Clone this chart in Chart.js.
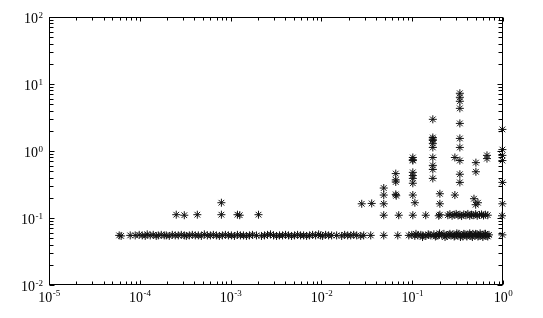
<!DOCTYPE html>
<html>
<head>
<meta charset="utf-8">
<script src="https://cdn.jsdelivr.net/npm/chart.js@4.4.1/dist/chart.umd.min.js"></script>
<style>
  html, body { margin: 0; padding: 0; background: #fff; }
  #c { display: block; }
</style>
</head>
<body>
<canvas id="c" width="543" height="318"></canvas>
<script>
// log-log scatter, asterisk markers, boxed axes with inward ticks.

// axis decades (tick labels are 10^exp)
const xExps = [-5, -4, -3, -2, -1, 0];
const yExps = [-2, -1, 0, 1, 2];
const minorMults = [2, 3, 4, 5, 6, 7, 8, 9];

// main band around 0.055
const baseX = [
  5.93e-5, 6.23e-5, 7.84e-5, 8.90e-5, 9.85e-5, 1.063e-4, 1.147e-4, 1.207e-4, 1.302e-4, 1.406e-4,
  1.517e-4, 1.597e-4, 1.723e-4, 1.859e-4, 1.956e-4, 2.112e-4, 2.279e-4, 2.459e-4, 2.654e-4, 2.864e-4,
  3.092e-4, 3.253e-4, 3.511e-4, 3.788e-4, 4.088e-4, 4.413e-4, 4.762e-4, 5.140e-4, 5.546e-4, 5.986e-4,
  6.460e-4, 6.972e-4, 7.526e-4, 8.122e-4, 8.765e-4, 9.459e-4, 1.021e-3, 1.102e-3, 1.189e-3, 1.283e-3,
  1.385e-3, 1.494e-3, 1.613e-3, 1.741e-3, 1.927e-3, 2.188e-3, 2.362e-3, 2.549e-3, 2.751e-3, 2.969e-3,
  3.204e-3, 3.458e-3, 3.732e-3, 4.027e-3, 4.346e-3, 4.691e-3, 5.062e-3, 5.464e-3, 5.896e-3, 6.365e-3,
  6.869e-3, 7.413e-3, 8.000e-3, 8.634e-3, 9.317e-3, 9.802e-3, 1.031e-2, 1.113e-2, 1.201e-2, 1.296e-2,
  1.472e-2, 1.672e-2, 1.804e-2, 1.947e-2, 2.102e-2, 2.268e-2, 2.448e-2, 2.710e-2, 2.924e-2, 3.494e-2,
  4.862e-2, 6.937e-2, 9.176e-2, 9.903e-2, 0.1069, 0.1154, 0.1245, 0.1310, 0.1414, 0.1526,
  0.1605, 0.1732, 0.1869, 0.1967, 0.2123, 0.2234, 0.2411, 0.2537, 0.2669, 0.2808,
  0.2954, 0.3108, 0.3270, 0.3441, 0.3620, 0.3809, 0.4007, 0.4217, 0.4436, 0.4667,
  0.4910, 0.5166, 0.5436, 0.5719, 0.6017, 0.6331, 0.6661, 0.7008, 0.985
];
const baseY = [
  0.055, 0.054, 0.055, 0.055, 0.056, 0.055, 0.054, 0.057, 0.055, 0.056,
  0.054, 0.055, 0.056, 0.055, 0.055, 0.054, 0.056, 0.055, 0.055, 0.056,
  0.055, 0.054, 0.055, 0.056, 0.055, 0.055, 0.054, 0.057, 0.055, 0.055,
  0.056, 0.055, 0.054, 0.055, 0.056, 0.055, 0.055, 0.054, 0.056, 0.055,
  0.055, 0.054, 0.055, 0.056, 0.055, 0.054, 0.055, 0.056, 0.057, 0.055,
  0.054, 0.055, 0.055, 0.056, 0.055, 0.054, 0.055, 0.056, 0.055, 0.055,
  0.054, 0.055, 0.056, 0.055, 0.057, 0.055, 0.054, 0.056, 0.055, 0.055,
  0.055, 0.054, 0.056, 0.055, 0.055, 0.056, 0.055, 0.054, 0.055, 0.055,
  0.055, 0.055, 0.055, 0.056, 0.054, 0.055, 0.056, 0.055, 0.054, 0.056,
  0.055, 0.057, 0.054, 0.056, 0.055, 0.058, 0.054, 0.056, 0.055, 0.057,
  0.054, 0.056, 0.058, 0.055, 0.053, 0.057, 0.055, 0.056, 0.054, 0.058,
  0.055, 0.057, 0.054, 0.056, 0.055, 0.058, 0.054, 0.056, 0.056
];

// thickening of the band between 0.1 and 0.7
const bandX = [0.11, 0.13, 0.15, 0.18, 0.20, 0.23, 0.26, 0.29, 0.31, 0.34,
               0.37, 0.40, 0.43, 0.46, 0.50, 0.53, 0.56, 0.60, 0.64, 0.68];
const bandY = [0.058, 0.052, 0.057, 0.053, 0.059, 0.052, 0.058, 0.053, 0.059, 0.052,
               0.058, 0.053, 0.059, 0.052, 0.058, 0.053, 0.059, 0.052, 0.058, 0.053];

// second level around 0.11
const midX = [
  2.52e-4, 3.09e-4, 4.30e-4, 7.92e-4, 1.19e-3, 1.26e-3, 2.03e-3,
  4.86e-2, 7.11e-2, 0.1016, 0.141, 0.2017, 0.196,
  0.247, 0.26, 0.275, 0.29, 0.305, 0.32, 0.335, 0.35, 0.37, 0.39,
  0.41, 0.43, 0.45, 0.47, 0.50, 0.52, 0.55, 0.58, 0.61, 0.64, 0.68, 0.975
];
const midY = [
  0.112, 0.110, 0.112, 0.112, 0.112, 0.110, 0.112,
  0.110, 0.110, 0.110, 0.110, 0.112, 0.108,
  0.110, 0.114, 0.108, 0.112, 0.115, 0.109, 0.112, 0.107, 0.113, 0.110,
  0.115, 0.108, 0.112, 0.110, 0.114, 0.108, 0.111, 0.113, 0.109, 0.112, 0.110, 0.108
];

// scattered upper points
const upX = [
  7.92e-4, 2.78e-2, 3.58e-2,
  4.86e-2, 4.86e-2, 4.86e-2,
  6.59e-2, 6.59e-2, 6.59e-2, 6.59e-2, 6.67e-2,
  0.1016, 0.1016, 0.1016, 0.1016, 0.1016, 0.1016, 0.1016, 0.1016, 0.107,
  0.1687, 0.1687, 0.1687, 0.1687, 0.1687, 0.1687, 0.1687, 0.1687, 0.1687, 0.1687,
  0.2017, 0.2017,
  0.295, 0.295,
  0.335, 0.335, 0.335, 0.335, 0.335, 0.335, 0.335, 0.335, 0.335, 0.335,
  0.479, 0.53, 0.50, 0.503, 0.503,
  0.666, 0.666,
  0.985, 0.985, 0.985, 0.985, 0.985, 0.985
];
const upY = [
  0.169, 0.163, 0.165,
  0.28, 0.22, 0.163,
  0.46, 0.37, 0.345, 0.225, 0.215,
  0.80, 0.74, 0.72, 0.48, 0.43, 0.39, 0.33, 0.22, 0.169,
  2.97, 1.59, 1.50, 1.44, 1.30, 1.13, 0.80, 0.61, 0.53, 0.39,
  0.23, 0.163,
  0.80, 0.22,
  7.27, 6.33, 5.52, 4.33, 2.58, 1.54, 1.13, 0.72, 0.45, 0.34,
  0.194, 0.169, 0.158, 0.67, 0.49,
  0.86, 0.77,
  2.1, 1.05, 0.86, 0.72, 0.34, 0.163
];

const toPts = (xs, ys) => xs.map((x, i) => ({ x, y: ys[i] }));

const ink = '#111';
const serif = '"Liberation Serif", "Times New Roman", serif';

const markerSet = (data) => ({
  data,
  pointStyle: 'star',
  pointRadius: 4,
  pointBorderWidth: 1,
  pointBorderColor: ink,
  pointBackgroundColor: ink,
  showLine: false,
  clip: false,
});

// box, inward ticks and 10^n labels drawn with the chart's own scales
const framePlugin = {
  id: 'frame',
  afterDatasetsDraw(chart) {
    const { ctx, chartArea: a, scales: { x, y } } = chart;
    const L = Math.round(a.left) + 0.5, R = Math.round(a.right) - 0.5;
    const T = Math.round(a.top) + 0.5, B = Math.round(a.bottom) - 0.5;
    ctx.save();
    ctx.strokeStyle = '#000';
    ctx.lineWidth = 1;
    ctx.strokeRect(L, T, R - L, B - T);

    ctx.beginPath();
    const xTick = (v, len) => {
      const px = Math.round(x.getPixelForValue(v)) + 0.5;
      ctx.moveTo(px, B); ctx.lineTo(px, B - len);
      ctx.moveTo(px, T); ctx.lineTo(px, T + len);
    };
    const yTick = (v, len) => {
      const py = Math.round(y.getPixelForValue(v)) + 0.5;
      ctx.moveTo(L, py); ctx.lineTo(L + len, py);
      ctx.moveTo(R, py); ctx.lineTo(R - len, py);
    };
    xExps.forEach((e, i) => {
      xTick(Math.pow(10, e), 4);
      if (i < xExps.length - 1) minorMults.forEach((m) => xTick(m * Math.pow(10, e), 3));
    });
    yExps.forEach((e, i) => {
      yTick(Math.pow(10, e), 5);
      if (i < yExps.length - 1) minorMults.forEach((m) => yTick(m * Math.pow(10, e), 4));
    });
    ctx.stroke();

    ctx.fillStyle = '#000';
    ctx.textBaseline = 'alphabetic';
    const big = '14px ' + serif, small = '9px ' + serif;
    const measure = (base, exp) => {
      ctx.font = big; const w1 = ctx.measureText(base).width;
      ctx.font = small; const w2 = ctx.measureText(exp).width;
      return [w1, w2];
    };
    xExps.forEach((e) => {
      const px = x.getPixelForValue(Math.pow(10, e));
      const exp = String(e);
      const [w1, w2] = measure('10', exp);
      const left = px - (w1 + w2) / 2;
      ctx.textAlign = 'left';
      ctx.font = big; ctx.fillText('10', left, 302);
      ctx.font = small; ctx.fillText(exp, left + w1 + 0.5, 296);
    });
    yExps.forEach((e) => {
      const py = y.getPixelForValue(Math.pow(10, e));
      const exp = String(e);
      const [w1, w2] = measure('10', exp);
      const right = 43;
      ctx.textAlign = 'left';
      ctx.font = small; ctx.fillText(exp, right - w2, py + 1);
      ctx.font = big; ctx.fillText('10', right - w2 - w1 - 0.5, py + 5.5);
    });
    ctx.restore();
  },
};

const hiddenAxis = {
  type: 'logarithmic',
  grid: { display: false, drawTicks: false },
  border: { display: false },
  ticks: { display: false },
};

new Chart(document.getElementById('c'), {
  type: 'scatter',
  data: {
    datasets: [
      markerSet(toPts(baseX, baseY)),
      markerSet(toPts(bandX, bandY)),
      markerSet(toPts(midX, midY)),
      markerSet(toPts(upX, upY)),
    ],
  },
  options: {
    responsive: false,
    animation: false,
    events: [],
    layout: { padding: { left: 49, right: 40, top: 17, bottom: 33 } },
    plugins: { legend: { display: false }, tooltip: { enabled: false } },
    scales: {
      x: { ...hiddenAxis, min: 1e-5, max: 1 },
      y: { ...hiddenAxis, min: 1e-2, max: 100 },
    },
  },
  plugins: [framePlugin],
});
</script>
</body>
</html>
